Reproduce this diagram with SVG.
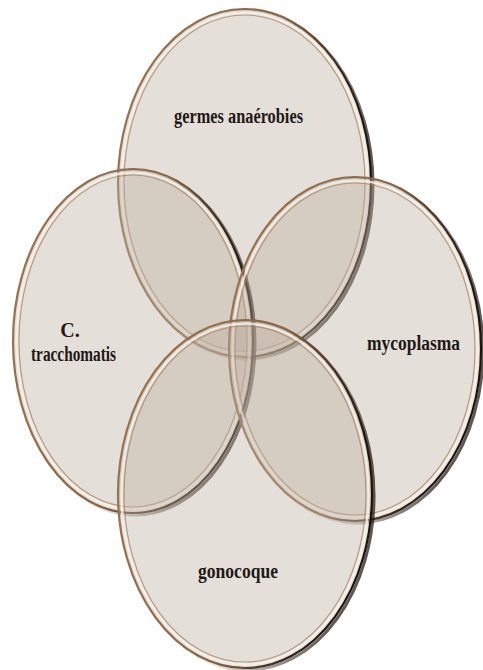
<svg xmlns="http://www.w3.org/2000/svg" width="483" height="670" viewBox="0 0 483 670">
<defs>
<linearGradient id="edge" x1="0" y1="0" x2="1" y2="0.3">
<stop offset="0" stop-color="#9a7553"/>
<stop offset="0.6" stop-color="#8a6646"/>
<stop offset="0.85" stop-color="#3b2a1c"/>
<stop offset="1" stop-color="#1e140c"/>
</linearGradient>
<linearGradient id="sh" x1="0" y1="0" x2="1" y2="0.3">
<stop offset="0" stop-color="#2a1c12" stop-opacity="0"/>
<stop offset="0.6" stop-color="#2a1c12" stop-opacity="0.1"/>
<stop offset="1" stop-color="#1a100a" stop-opacity="0.7"/>
</linearGradient>
</defs>
<style>
.fill{fill:#bfae9f;fill-opacity:0.4;stroke:none}
.shadow{fill:none;stroke:url(#sh);stroke-width:3}
.outer{fill:none;stroke:url(#edge);stroke-width:2.2}
.hl{fill:none;stroke:#f6f2ee;stroke-opacity:0.8;stroke-width:2.5}
.inner{fill:none;stroke:#a47e5c;stroke-opacity:0.7;stroke-width:1.2}
.lbl{font-family:"Liberation Serif","Times New Roman",serif;font-size:20px;font-weight:bold;fill:#1f1a16;text-anchor:middle}
</style>
<rect width="483" height="670" fill="#ffffff"/>
<g id="top">
<ellipse class="fill" cx="244.5" cy="183" rx="126.5" ry="174"/>
<ellipse class="shadow" cx="246.5" cy="185" rx="126.5" ry="174"/>
<ellipse class="outer" cx="244.5" cy="183" rx="126.5" ry="174"/>
<ellipse class="hl" cx="244.5" cy="183" rx="123" ry="170.5"/>
<ellipse class="inner" cx="244.5" cy="183" rx="120.5" ry="168"/>
<text class="lbl" x="238.5" y="123" textLength="129" lengthAdjust="spacingAndGlyphs">germes anaérobies</text>
</g>
<g id="left">
<ellipse class="fill" cx="133" cy="341" rx="120" ry="172"/>
<ellipse class="shadow" cx="135" cy="343" rx="120" ry="172"/>
<ellipse class="outer" cx="133" cy="341" rx="120" ry="172"/>
<ellipse class="hl" cx="133" cy="341" rx="116.5" ry="168.5"/>
<ellipse class="inner" cx="133" cy="341" rx="114" ry="166"/>
<text class="lbl" x="70" y="337">C.</text>
<text class="lbl" x="73.5" y="361" textLength="85" lengthAdjust="spacingAndGlyphs">tracchomatis</text>
</g>
<g id="right">
<ellipse class="fill" cx="355" cy="349" rx="126" ry="172"/>
<ellipse class="shadow" cx="357" cy="351" rx="126" ry="172"/>
<ellipse class="outer" cx="355" cy="349" rx="126" ry="172"/>
<ellipse class="hl" cx="355" cy="349" rx="122.5" ry="168.5"/>
<ellipse class="inner" cx="355" cy="349" rx="120" ry="166"/>
<text class="lbl" x="413.5" y="350" textLength="93" lengthAdjust="spacingAndGlyphs">mycoplasma</text>
</g>
<g id="bottom">
<ellipse class="fill" cx="245" cy="494" rx="127" ry="174"/>
<ellipse class="shadow" cx="247" cy="496" rx="127" ry="174"/>
<ellipse class="outer" cx="245" cy="494" rx="127" ry="174"/>
<ellipse class="hl" cx="245" cy="494" rx="123.5" ry="170.5"/>
<ellipse class="inner" cx="245" cy="494" rx="121" ry="168"/>
<text class="lbl" x="238" y="578" textLength="80" lengthAdjust="spacingAndGlyphs">gonocoque</text>
</g>
<g id="connectors"></g>
</svg>
